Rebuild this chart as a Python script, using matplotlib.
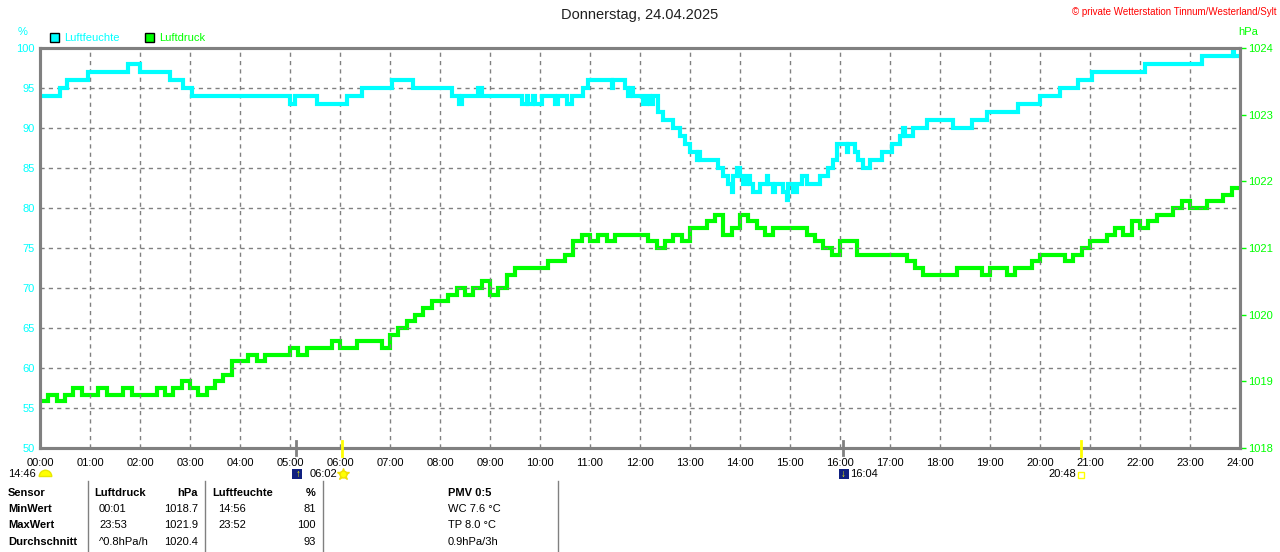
import matplotlib
matplotlib.use('Agg')
import matplotlib.pyplot as plt
from matplotlib.patches import Rectangle
import numpy as np

plt.rcParams['font.family'] = ['Liberation Sans', 'DejaVu Sans']

# data
title = 'Donnerstag, 24.04.2025'
copyright_text = '\u00a9 private Wetterstation Tinnum/Westerland/Sylt'
hour_labels = ['%02d:00' % h for h in range(25)]
hum_ticks = [50, 55, 60, 65, 70, 75, 80, 85, 90, 95, 100]
pres_ticks = [1018, 1019, 1020, 1021, 1022, 1023, 1024]

# humidity (%) as steps: time of change, new value
hum_times = ['00:00', '00:24', '00:32', '00:58', '01:46', '02:00', '02:36', '02:52', '03:02',
             '05:00', '05:06', '05:32', '06:08', '06:26', '07:02', '07:28', '08:14', '08:23',
             '08:27', '08:46', '08:50', '09:38', '09:44', '09:46', '09:52', '09:54', '10:02',
             '10:18', '10:22', '10:32', '10:38', '10:52', '10:58', '11:26', '11:28', '11:42',
             '11:46', '11:48', '11:52', '12:04', '12:08', '12:12', '12:16', '12:22', '12:28',
             '12:40', '12:48', '12:54', '13:00', '13:08', '13:10', '13:12', '13:34', '13:40',
             '13:46', '13:50', '13:52', '13:56', '14:00', '14:04', '14:08', '14:12', '14:16',
             '14:24', '14:32', '14:34', '14:40', '14:42', '14:52', '14:56', '14:58', '15:04',
             '15:08', '15:14', '15:20', '15:36', '15:46', '15:52', '15:56', '16:08', '16:10',
             '16:18', '16:22', '16:28', '16:36', '16:50', '17:02', '17:12', '17:16', '17:18',
             '17:28', '17:44', '18:16', '18:38', '18:56', '19:34', '20:00', '20:24', '20:46',
             '21:02', '22:06', '23:14', '23:52', '23:53', '24:00']
hum_vals = [94, 95, 96, 97, 98, 97, 96, 95, 94,
            93, 94, 93, 94, 95, 96, 95, 94, 93,
            94, 95, 94, 93, 94, 93, 94, 93, 94,
            93, 94, 93, 94, 95, 96, 95, 96, 95,
            94, 95, 94, 93, 94, 93, 94, 92, 91,
            90, 89, 88, 87, 86, 87, 86, 85, 84,
            83, 82, 84, 85, 84, 83, 84, 83, 82,
            83, 84, 83, 82, 83, 82, 81, 83, 82,
            83, 84, 83, 84, 85, 86, 88, 87, 88,
            87, 86, 85, 86, 87, 88, 89, 90, 89,
            90, 91, 90, 91, 92, 93, 94, 95, 96,
            97, 98, 99, 100, 99, 99]

# air pressure (hPa), every 10 minutes from 00:00 to 24:00
pres_vals = [1018.7, 1018.8, 1018.7, 1018.8, 1018.9, 1018.8,
             1018.8, 1018.9, 1018.8, 1018.8, 1018.9, 1018.8,
             1018.8, 1018.8, 1018.9, 1018.8, 1018.9, 1019.0,
             1018.9, 1018.8, 1018.9, 1019.0, 1019.1, 1019.3,
             1019.3, 1019.4, 1019.3, 1019.4, 1019.4, 1019.4,
             1019.5, 1019.4, 1019.5, 1019.5, 1019.5, 1019.6,
             1019.5, 1019.5, 1019.6, 1019.6, 1019.6, 1019.5,
             1019.7, 1019.8, 1019.9, 1020.0, 1020.1, 1020.2,
             1020.2, 1020.3, 1020.4, 1020.3, 1020.4, 1020.5,
             1020.3, 1020.4, 1020.6, 1020.7, 1020.7, 1020.7,
             1020.7, 1020.8, 1020.8, 1020.9, 1021.1, 1021.2,
             1021.1, 1021.2, 1021.1, 1021.2, 1021.2, 1021.2,
             1021.2, 1021.1, 1021.0, 1021.1, 1021.2, 1021.1,
             1021.3, 1021.3, 1021.4, 1021.5, 1021.2, 1021.3,
             1021.5, 1021.4, 1021.3, 1021.2, 1021.3, 1021.3,
             1021.3, 1021.3, 1021.2, 1021.1, 1021.0, 1020.9,
             1021.1, 1021.1, 1020.9, 1020.9, 1020.9, 1020.9,
             1020.9, 1020.9, 1020.8, 1020.7, 1020.6, 1020.6,
             1020.6, 1020.6, 1020.7, 1020.7, 1020.7, 1020.6,
             1020.7, 1020.7, 1020.6, 1020.7, 1020.7, 1020.8,
             1020.9, 1020.9, 1020.9, 1020.8, 1020.9, 1021.0,
             1021.1, 1021.1, 1021.2, 1021.3, 1021.2, 1021.4,
             1021.3, 1021.4, 1021.5, 1021.5, 1021.6, 1021.7,
             1021.6, 1021.6, 1021.7, 1021.7, 1021.8, 1021.9,
             1021.9]

# statistics table
table_rows = ['Sensor', 'MinWert', 'MaxWert', 'Durchschnitt']
pres_col = [('Luftdruck', 'hPa'), ('00:01', '1018.7'), ('23:53', '1021.9'), ('^0.8hPa/h', '1020.4')]
hum_col = [('Luftfeuchte', '%'), ('14:56', '81'), ('23:52', '100'), ('', '93')]
extra_col = ['PMV 0:5', 'WC 7.6 \u00b0C', 'TP 8.0 \u00b0C', '0.9hPa/3h']

CYAN = '#00ffff'
GREEN = '#00ff00'
GRAY = '#808080'
YELLOW = '#ffff00'
W, H = 1280, 552


def fx(px):
    return px / W


def fy(py):
    return 1 - py / H


def to_hours(s):
    h, m = s.split(':')
    return int(h) + int(m) / 60


def fig_line(x0, y0, x1, y1, color, lw):
    fig.add_artist(plt.Line2D([fx(x0), fx(x1)], [fy(y0), fy(y1)], color=color, linewidth=lw))


def fig_marker(x, y, marker, size, face, edge='none'):
    fig.add_artist(plt.Line2D([fx(x)], [fy(y)], marker=marker, markersize=size,
                              markerfacecolor=face, markeredgecolor=edge, linestyle='none'))


fig = plt.figure(figsize=(12.8, 5.52), dpi=100)
ax = fig.add_axes([fx(40), fy(448), 1200 / W, 400 / H])
ax2 = ax.twinx()

hum_x = [to_hours(t) for t in hum_times]
pres_x = np.arange(len(pres_vals)) / 6

ax2.plot(pres_x, pres_vals, color=GREEN, linewidth=3, drawstyle='steps-post', solid_joinstyle='miter')
ax.plot(hum_x, hum_vals, color=CYAN, linewidth=3, drawstyle='steps-post', solid_joinstyle='miter')
ax.set_zorder(ax2.get_zorder() + 1)
ax.patch.set_visible(False)

ax.set_xlim(0, 24)
ax.set_ylim(50, 100)
ax2.set_ylim(1018, 1024)

ax.set_xticks(range(25))
ax.set_xticklabels(hour_labels, fontsize=8)
ax.tick_params(axis='x', length=0, pad=7, colors='black')
ax.set_yticks(hum_ticks)
ax.set_yticklabels([str(v) for v in hum_ticks], fontsize=8)
ax.tick_params(axis='y', length=0, pad=4, colors=CYAN)
ax.grid(True, color=GRAY, linestyle=(0, (3, 3)), linewidth=1)

ax2.set_yticks(pres_ticks)
ax2.set_yticklabels([str(v) for v in pres_ticks], fontsize=8)
ax2.tick_params(axis='y', length=4, width=1, pad=2, colors=GREEN)

for a in (ax, ax2):
    for sp in a.spines.values():
        sp.set_color(GRAY)
        sp.set_linewidth(2.2)

# header texts
fig.text(0.5, fy(15), title, ha='center', va='center', fontsize=10.5, color='#202020')
fig.text(fx(1276), fy(12), copyright_text, ha='right', va='center', fontsize=7, color='#ff0000')
fig.text(fx(23), fy(32), '%', ha='center', va='center', fontsize=8, color=CYAN)
fig.text(fx(1248), fy(32), 'hPa', ha='center', va='center', fontsize=8, color=GREEN)

# legend boxes
fig.patches.append(Rectangle((fx(50), fy(42)), 9 / W, 9 / H, transform=fig.transFigure,
                             facecolor=CYAN, edgecolor='black', linewidth=1))
fig.text(fx(64), fy(38), 'Luftfeuchte', ha='left', va='center', fontsize=8, color=CYAN)
fig.patches.append(Rectangle((fx(145), fy(42)), 9 / W, 9 / H, transform=fig.transFigure,
                             facecolor=GREEN, edgecolor='black', linewidth=1))
fig.text(fx(159), fy(38), 'Luftdruck', ha='left', va='center', fontsize=8, color=GREEN)

# sun / moon marks under the axis
fig.text(fx(8), fy(474), '14:46', ha='left', va='center', fontsize=8)
fig_marker(45, 475, (2, 0, 0), 0, YELLOW)
fig.add_artist(plt.Line2D([fx(45)], [fy(476)], marker=matplotlib.path.Path.unit_circle_righthalf().transformed(
    matplotlib.transforms.Affine2D().rotate_deg(90)), markersize=9, markerfacecolor=YELLOW,
    markeredgecolor='#e8e800', linestyle='none'))
fig_line(296, 441, 296, 455, GRAY, 2)
fig.patches.append(Rectangle((fx(292), fy(479)), 10 / W, 10 / H, transform=fig.transFigure,
                             facecolor='#102080', edgecolor='none'))
fig.text(fx(298), fy(474), '\u2191', ha='center', va='center', fontsize=7, color=YELLOW, fontweight='bold')
fig_line(342, 441, 342, 456, YELLOW, 2)
fig.text(fx(337), fy(474), '06:02', ha='right', va='center', fontsize=8)
fig_marker(343, 474, '*', 9, YELLOW, '#f0e000')
fig_marker(343, 474, 'o', 5, YELLOW, '#f0e000')
fig_line(843, 441, 843, 455, GRAY, 2)
fig.patches.append(Rectangle((fx(839), fy(479)), 10 / W, 10 / H, transform=fig.transFigure,
                             facecolor='#102080', edgecolor='none'))
fig.text(fx(843), fy(474), '\u2193', ha='center', va='center', fontsize=7, color=YELLOW, fontweight='bold')
fig.text(fx(850), fy(474), '16:04', ha='left', va='center', fontsize=8)
fig_line(1081, 441, 1081, 456, YELLOW, 2)
fig.text(fx(1076), fy(474), '20:48', ha='right', va='center', fontsize=8)
fig_marker(1081, 475, 's', 4, 'none', YELLOW)

# statistics table
for xs in (88, 205, 323, 558):
    fig_line(xs, 481, xs, 552, GRAY, 1)
row_y = [493, 509, 525, 542]
for i, y in enumerate(row_y):
    fig.text(fx(8), fy(y), table_rows[i], ha='left', va='center', fontsize=8, fontweight='bold')
    bold = 'bold' if i == 0 else 'normal'
    left_x = 94 if i == 0 else 99
    fig.text(fx(left_x), fy(y), pres_col[i][0], ha='left', va='center', fontsize=8, fontweight=bold)
    fig.text(fx(198), fy(y), pres_col[i][1], ha='right', va='center', fontsize=8, fontweight=bold)
    left_x = 212 if i == 0 else 218
    fig.text(fx(left_x), fy(y), hum_col[i][0], ha='left', va='center', fontsize=8, fontweight=bold)
    fig.text(fx(316), fy(y), hum_col[i][1], ha='right', va='center', fontsize=8, fontweight=bold)
    fig.text(fx(448), fy(y), extra_col[i], ha='left', va='center', fontsize=8, fontweight=bold)

fig.savefig('out.png', dpi=100, facecolor='white')
